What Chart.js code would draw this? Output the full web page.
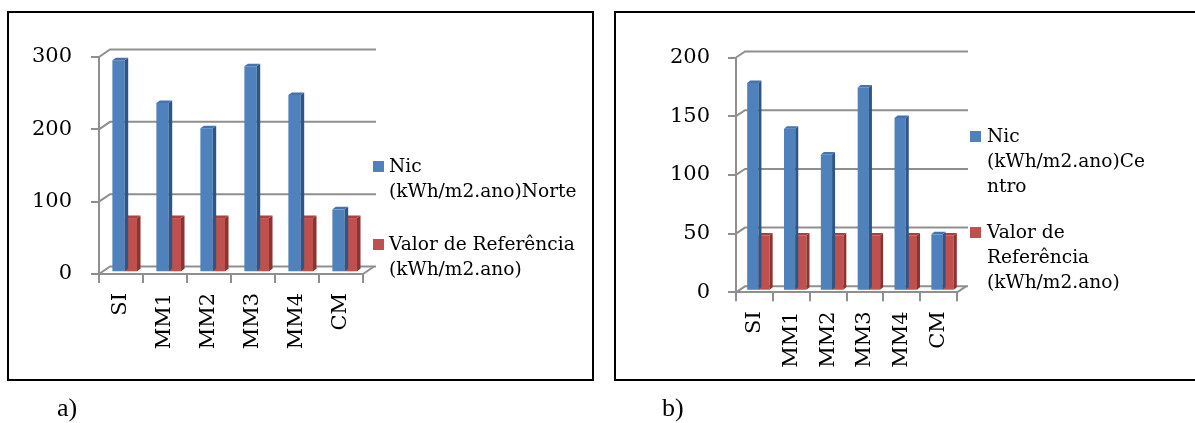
<!DOCTYPE html>
<html>
<head>
<meta charset="utf-8">
<script src="https://cdn.jsdelivr.net/npm/chart.js@4.4.1/dist/chart.umd.min.js"></script>
<style>
  html, body { margin: 0; padding: 0; }
  body { width: 1195px; height: 423px; background: #fff; position: relative; overflow: hidden; }
  .frame { position: absolute; border: 2px solid #000; box-sizing: border-box; }
  #frameA { left: 7px; top: 11px; width: 587px; height: 370px; }
  #frameB { left: 614px; top: 11px; width: 600px; height: 370px; }
  canvas { position: absolute; top: 0; }
  #chartA { left: 0; }
  #chartB { left: 600px; }
  .legend { position: absolute; font-family: "DejaVu Serif", serif; font-size: 18.6px; line-height: 25px; color: #000; white-space: nowrap; }
  .swatch { position: absolute; width: 11px; height: 11px; }
  .caption { position: absolute; font-family: "Liberation Serif", serif; font-size: 26px; line-height: 26px; color: #000; }
</style>
</head>
<body>
<div class="frame" id="frameA"></div>
<div class="frame" id="frameB"></div>
<canvas id="chartA" width="600" height="423"></canvas>
<canvas id="chartB" width="595" height="423"></canvas>
<div id="legendA"></div>
<div id="legendB"></div>
<div class="caption" style="left:57px; top:395px;">a)</div>
<div class="caption" style="left:662px; top:395px;">b)</div>

<script>
// Buildings compared in both regions
const categories = ["SI", "MM1", "MM2", "MM3", "MM4", "CM"];

// a) Norte
const nicNorte = [293, 234, 199, 285, 245, 87];
const refNorte = [75, 75, 75, 75, 75, 75];
const ticksNorte = [0, 100, 200, 300];
const seriesNorte = ["Nic (kWh/m2.ano)Norte", "Valor de Referência (kWh/m2.ano)"];
const legendLinesNorte = [["Nic", "(kWh/m2.ano)Norte"], ["Valor de Referência", "(kWh/m2.ano)"]];

// b) Centro
const nicCentro = [177, 138, 116, 173, 147, 48];
const refCentro = [47, 47, 47, 47, 47, 47];
const ticksCentro = [0, 50, 100, 150, 200];
const seriesCentro = ["Nic (kWh/m2.ano)Centro", "Valor de Referência (kWh/m2.ano)"];
const legendLinesCentro = [["Nic", "(kWh/m2.ano)Ce", "ntro"], ["Valor de", "Referência", "(kWh/m2.ano)"]];

const FRONT = ["#4f81bd", "#c0504d"];
const SIDE = ["#2f5582", "#8a3431"];
const TOP = ["#4573ab", "#a9413e"];
const GRID = "#8f8f8f";

// Pseudo-3D frame: back-wall gridlines, floor edge, and bar side/top faces
const box3d = {
  id: "box3d",
  beforeDatasetsDraw(chart, args, o) {
    const { ctx, chartArea: a, scales: { y } } = chart;
    ctx.save();
    ctx.strokeStyle = GRID;
    ctx.lineWidth = 2;
    y.ticks.forEach(t => {
      const py = y.getPixelForValue(t.value);
      ctx.beginPath();
      ctx.moveTo(a.left, py);
      ctx.lineTo(a.left + o.dx, py + o.dy);
      ctx.lineTo(a.right + o.dx + 2, py + o.dy);
      ctx.stroke();
    });
    const p0 = y.getPixelForValue(0);
    ctx.beginPath();
    ctx.moveTo(a.right, p0);
    ctx.lineTo(a.right + o.dx, p0 + o.dy);
    ctx.stroke();
    ctx.restore();
  },
  beforeDatasetDraw(chart, args, o) {
    chart.ctx.save();
    chart.ctx.translate(o.shiftX, o.shiftY);
  },
  afterDatasetDraw(chart, args, o) {
    const ctx = chart.ctx;
    const i = args.index;
    args.meta.data.forEach(bar => {
      const { x, y, base, width } = bar.getProps(["x", "y", "base", "width"], true);
      const l = x - width / 2, r = x + width / 2;
      ctx.fillStyle = SIDE[i];
      ctx.beginPath();
      ctx.moveTo(r, y); ctx.lineTo(r + o.bx, y + o.by);
      ctx.lineTo(r + o.bx, base + o.by); ctx.lineTo(r, base);
      ctx.closePath(); ctx.fill();
      ctx.fillStyle = TOP[i];
      ctx.beginPath();
      ctx.moveTo(l, y); ctx.lineTo(l + o.bx, y + o.by);
      ctx.lineTo(r + o.bx, y + o.by); ctx.lineTo(r, y);
      ctx.closePath(); ctx.fill();
    });
    ctx.restore();
  }
};

function makeChart(id, nic, ref, ticks, names, geo) {
  const tickFont = { family: "DejaVu Serif", size: 21 };
  return new Chart(document.getElementById(id), {
    type: "bar",
    data: {
      labels: categories,
      datasets: [
        { label: names[0], data: nic, backgroundColor: FRONT[0], clip: false },
        { label: names[1], data: ref, backgroundColor: FRONT[1], clip: false }
      ]
    },
    options: {
      responsive: false,
      animation: false,
      events: [],
      layout: { padding: geo.padding },
      datasets: { bar: { categoryPercentage: geo.group, barPercentage: 1 } },
      plugins: {
        legend: { display: false },
        tooltip: { enabled: false },
        box3d: geo.depth
      },
      scales: {
        x: {
          afterFit(s) { s.height = geo.xH; },
          grid: { display: true, drawOnChartArea: false, offset: true, tickLength: 9, color: GRID, lineWidth: 2 },
          border: { display: true, color: GRID, width: 2 },
          ticks: { font: tickFont, color: "#000", minRotation: 90, maxRotation: 90, autoSkip: false, padding: geo.xPad }
        },
        y: {
          min: ticks[0],
          max: ticks[ticks.length - 1],
          afterFit(s) { s.width = geo.yW; },
          grid: { display: true, drawOnChartArea: false, tickLength: 8, color: GRID, lineWidth: 2 },
          border: { display: true, color: GRID, width: 2 },
          ticks: { font: tickFont, color: "#000", stepSize: ticks[1] - ticks[0], padding: geo.yPad }
        }
      }
    },
    plugins: [box3d]
  });
}

makeChart("chartA", nicNorte, refNorte, ticksNorte, seriesNorte, {
  padding: { left: 10, top: 57, right: 237, bottom: 49 },
  yW: 89, xH: 100, yPad: 19, xPad: 10, group: 0.56,
  depth: { dx: 11, dy: -7.5, shiftX: 3.7, shiftY: -1.7, bx: 3.5, by: -2.5 }
});

makeChart("chartB", nicCentro, refCentro, ticksCentro, seriesCentro, {
  padding: { left: 10, top: 57.5, right: 238, bottom: 30.7 },
  yW: 126, xH: 100, yPad: 18, xPad: 10, group: 0.61,
  depth: { dx: 9, dy: -6, shiftX: 4, shiftY: -1.6, bx: 3, by: -2.5 }
});

// Legends built from the series line breaks
function buildLegend(id, lines, pos) {
  const host = document.getElementById(id);
  lines.forEach((ls, i) => {
    const sw = document.createElement("div");
    sw.className = "swatch";
    sw.style.background = FRONT[i];
    sw.style.left = pos.swX + "px";
    sw.style.top = pos.swY[i] + "px";
    host.appendChild(sw);
    const t = document.createElement("div");
    t.className = "legend";
    t.style.left = pos.textX + "px";
    t.style.top = pos.textY[i] + "px";
    t.innerHTML = ls.map(s => s.replace(/&/g, "&amp;").replace(/</g, "&lt;")).join("<br>");
    host.appendChild(t);
  });
}
buildLegend("legendA", legendLinesNorte, { swX: 373, swY: [161, 238.5], textX: 389, textY: [153, 230.7] });
buildLegend("legendB", legendLinesCentro, { swX: 970, swY: [131, 227], textX: 987, textY: [123, 219] });
</script>
</body>
</html>
